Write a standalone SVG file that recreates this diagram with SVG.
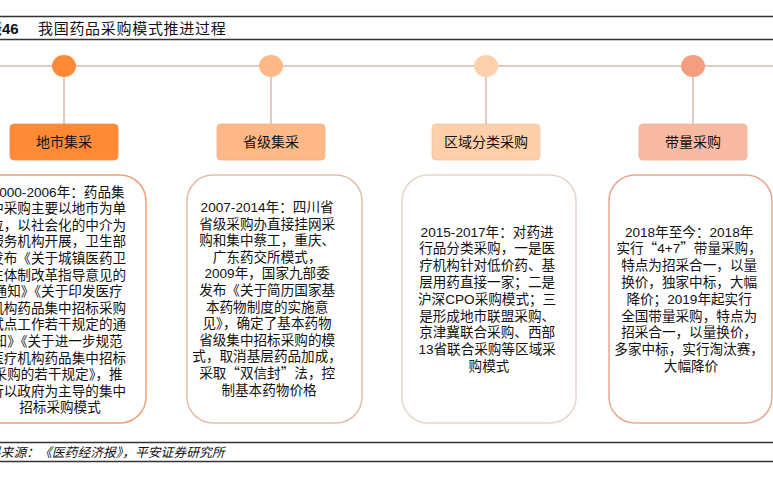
<svg xmlns="http://www.w3.org/2000/svg" width="773" height="480" viewBox="0 0 773 480">
<style>
.t{font-family:"Liberation Sans","Noto Sans CJK SC",sans-serif;fill:#111}
.q{font-family:"Noto Sans CJK SC",sans-serif}
.body{font-size:13.6px;text-anchor:middle}
.lab{font-size:14px;text-anchor:middle}
.rule{stroke:#333;stroke-width:1.6}
.conn{stroke:#e2cbc1;stroke-width:2;fill:none}
.card{fill:#fff;stroke-width:1.5}
</style>
<rect width="773" height="480" fill="#fff"/>
<g id="title">
<line class="rule" x1="0" y1="16.5" x2="773" y2="16.5"/>
<line class="rule" x1="0" y1="39.5" x2="773" y2="39.5"/>
<text class="t" x="-13" y="34" font-size="15" font-weight="bold">表46</text>
<text class="t" x="38" y="34" font-size="15" letter-spacing="0.7">我国药品采购模式推进过程</text>
</g>
<g id="connectors">
<line class="conn" x1="0" y1="66" x2="773" y2="66"/>
<line class="conn" x1="64" y1="66" x2="64" y2="124"/>
<line class="conn" x1="271" y1="66" x2="271" y2="124"/>
<line class="conn" x1="486" y1="66" x2="486" y2="124"/>
<line class="conn" x1="693" y1="66" x2="693" y2="124" stroke="#eeb09b"/>
</g>
<g id="stage1">
<ellipse cx="64" cy="66" rx="12" ry="11" fill="#ff8a36"/>
<rect x="10" y="124" width="108" height="36" rx="4" fill="#ff8a36" stroke="#f08a4c" stroke-width="0.8"/>
<text class="t lab" x="64" y="147">地市集采</text>
<rect class="card" x="-29" y="175" width="175" height="248" rx="26" stroke="#eea077"/>
<text class="t body">
<tspan x="60" y="196.5">2000-2006年：药品集</tspan>
<tspan x="60" dy="16.6">中采购主要以地市为单</tspan>
<tspan x="60" dy="16.6">位，以社会化的中介为</tspan>
<tspan x="60" dy="16.6">服务机构开展，卫生部</tspan>
<tspan x="60" dy="16.6">发布《关于城镇医药卫</tspan>
<tspan x="60" dy="16.6">生体制改革指导意见的</tspan>
<tspan x="60" dy="16.6">通知》《关于印发医疗</tspan>
<tspan x="60" dy="16.6">机构药品集中招标采购</tspan>
<tspan x="60" dy="16.6">试点工作若干规定的通</tspan>
<tspan x="60" dy="16.6">知》《关于进一步规范</tspan>
<tspan x="60" dy="16.6">医疗机构药品集中招标</tspan>
<tspan x="60" dy="16.6">采购的若干规定》，推</tspan>
<tspan x="60" dy="16.6">行以政府为主导的集中</tspan>
<tspan x="60" dy="16.6">招标采购模式</tspan>
</text>
</g>
<g id="stage2">
<ellipse cx="271" cy="66" rx="12" ry="11" fill="#ffb887"/>
<rect x="217" y="124" width="108" height="36" rx="4" fill="#ffb887" stroke="#f0b08a" stroke-width="0.8"/>
<text class="t lab" x="271" y="147">省级集采</text>
<rect class="card" x="187" y="175" width="175" height="248" rx="26" stroke="#e3bfa8"/>
<text class="t body">
<tspan x="269" y="212">2007-2014年：四川省</tspan>
<tspan x="269" dy="16.6">省级采购办直接挂网采</tspan>
<tspan x="269" dy="16.6">购和集中蔡工，重庆、</tspan>
<tspan x="269" dy="16.6">广东药交所模式，</tspan>
<tspan x="269" dy="16.6">2009年，国家九部委</tspan>
<tspan x="269" dy="16.6">发布《关于简历国家基</tspan>
<tspan x="269" dy="16.6">本药物制度的实施意</tspan>
<tspan x="269" dy="16.6">见》，确定了基本药物</tspan>
<tspan x="269" dy="16.6">省级集中招标采购的模</tspan>
<tspan x="269" dy="16.6">式，取消基层药品加成，</tspan>
<tspan x="269" dy="16.6">采取<tspan class="q">“</tspan>双信封<tspan class="q">”</tspan>法，控</tspan>
<tspan x="269" dy="16.6">制基本药物价格</tspan>
</text>
</g>
<g id="stage3">
<ellipse cx="486" cy="66" rx="12" ry="11" fill="#ffd0ac"/>
<rect x="432" y="124" width="108" height="36" rx="4" fill="#ffcfaa" stroke="#f0c6a6" stroke-width="0.8"/>
<text class="t lab" x="486" y="147">区域分类采购</text>
<rect class="card" x="402" y="175" width="174" height="248" rx="26" stroke="#e8d5cb"/>
<text class="t body">
<tspan x="489" y="236.5">2015-2017年：对药进</tspan>
<tspan x="489" dy="16.8">行品分类采购，一是医</tspan>
<tspan x="489" dy="16.8">疗机构针对低价药、基</tspan>
<tspan x="489" dy="16.8">层用药直接一家；二是</tspan>
<tspan x="489" dy="16.8">沪深CPO采购模式；三</tspan>
<tspan x="489" dy="16.8">是形成地市联盟采购、</tspan>
<tspan x="489" dy="16.8">京津冀联合采购、西部</tspan>
<tspan x="489" dy="16.8">13省联合采购等区域采</tspan>
<tspan x="489" dy="16.8">购模式</tspan>
</text>
</g>
<g id="stage4">
<ellipse cx="693" cy="66" rx="12" ry="11" fill="#f59d7f"/>
<rect x="639" y="124" width="108" height="36" rx="4" fill="#f8b9a3" stroke="#eeb09b" stroke-width="0.8"/>
<text class="t lab" x="693" y="147">带量采购</text>
<rect class="card" x="609" y="175" width="163" height="248" rx="26" stroke="#eaa78f"/>
<text class="t body">
<tspan x="691" y="236.5">2018年至今：2018年</tspan>
<tspan x="691" dy="16.8">实行<tspan class="q">“</tspan>4+7<tspan class="q">”</tspan>带量采购，</tspan>
<tspan x="691" dy="16.8">特点为招采合一，以量</tspan>
<tspan x="691" dy="16.8">换价，独家中标，大幅</tspan>
<tspan x="691" dy="16.8">降价；2019年起实行</tspan>
<tspan x="691" dy="16.8">全国带量采购，特点为</tspan>
<tspan x="691" dy="16.8">招采合一，以量换价，</tspan>
<tspan x="691" dy="16.8">多家中标，实行淘汰赛，</tspan>
<tspan x="691" dy="16.8">大幅降价</tspan>
</text>
</g>
<g id="footer">
<line class="rule" x1="0" y1="442.5" x2="773" y2="442.5"/>
<line class="rule" x1="0" y1="461.5" x2="773" y2="461.5"/>
<text class="t" x="-25" y="457" font-size="12.8" font-style="italic" fill="#222">资料来源：《医药经济报》，平安证券研究所</text>
</g>
</svg>
